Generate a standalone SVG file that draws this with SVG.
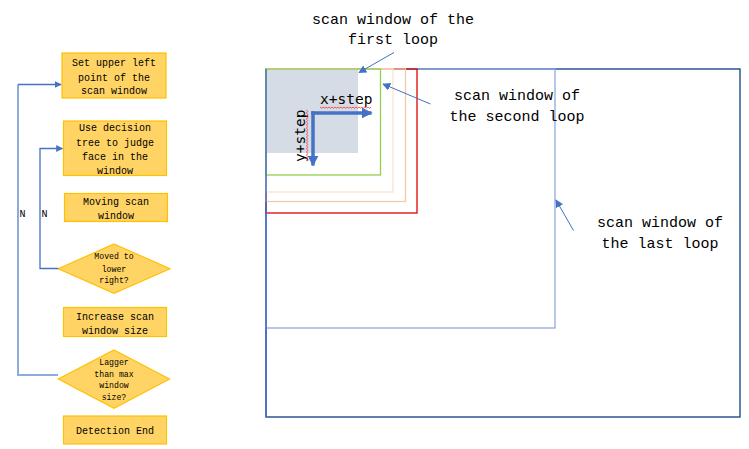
<svg xmlns="http://www.w3.org/2000/svg" width="749" height="449" viewBox="0 0 749 449">
<style>
.box{fill:#ffd465;stroke:#ffc000;stroke-width:1.2}
.ft{font-family:"Liberation Mono","DejaVu Sans Mono",monospace;font-size:10px;fill:#000;text-anchor:middle}
.fd{font-family:"Liberation Mono","DejaVu Sans Mono",monospace;font-size:8.2px;fill:#000;text-anchor:middle}
.ann{font-family:"Liberation Mono","DejaVu Sans Mono",monospace;font-size:15px;fill:#000;text-anchor:middle}
.step{font-family:"DejaVu Sans Mono","Liberation Mono",monospace;font-size:14.5px;fill:#000}
.win{fill:none}
.wave{fill:none;stroke:#ff3030;stroke-width:0.8}
</style>
<defs>
<marker id="ah" viewBox="0 0 10 10" refX="9" refY="5" markerWidth="7" markerHeight="7" markerUnits="userSpaceOnUse" orient="auto"><path d="M0,0 L10,5 L0,10 z" fill="#4472c4"/></marker>
<marker id="ahs" viewBox="0 0 10 10" refX="9" refY="5" markerWidth="8" markerHeight="8" markerUnits="userSpaceOnUse" orient="auto"><path d="M0,0 L10,5 L0,10 z" fill="#4472c4"/></marker>
<marker id="ahb" viewBox="0 0 10 10" refX="9" refY="5" markerWidth="11" markerHeight="11" markerUnits="userSpaceOnUse" orient="auto"><path d="M0,0 L10,5 L0,10 z" fill="#4472c4"/></marker>
</defs>

<!-- flowchart nodes -->
<g id="n1"><rect class="box" x="62" y="53" width="104" height="45"/>
<text class="ft" x="114" y="66">Set upper left</text><text class="ft" x="114" y="80.5">point of the</text><text class="ft" x="114" y="94">scan window</text></g>
<g id="n2"><rect class="box" x="63.5" y="121" width="103" height="54.5"/>
<text class="ft" x="115" y="131">Use decision</text><text class="ft" x="115" y="145.5">tree to judge</text><text class="ft" x="115" y="159.5">face in the</text><text class="ft" x="115" y="174">window</text></g>
<g id="n3"><rect class="box" x="64.5" y="193.5" width="103" height="28"/>
<text class="ft" x="116" y="205">Moving scan</text><text class="ft" x="116" y="219">window</text></g>
<g id="n4"><polygon class="box" points="114,244 170,268.7 114,293.3 58.3,268.7"/>
<text class="fd" x="114" y="259.3">Moved to</text><text class="fd" x="114" y="271.7">lower</text><text class="fd" x="114" y="283.3">right?</text></g>
<g id="n5"><rect class="box" x="63.5" y="307.5" width="103" height="29"/>
<text class="ft" x="115" y="319.5">Increase scan</text><text class="ft" x="115" y="333.5">window size</text></g>
<g id="n6"><polygon class="box" points="114,350 169.5,379 114,408.3 58.3,379"/>
<text class="fd" x="114" y="365">Lagger</text><text class="fd" x="114" y="376.7">than max</text><text class="fd" x="114" y="388.3">window</text><text class="fd" x="114" y="400">size?</text></g>
<g id="n7"><rect class="box" x="63.5" y="416" width="103" height="28"/>
<text class="ft" x="115" y="434">Detection End</text></g>

<!-- connectors -->
<g id="connectors">
<path d="M58,375 L18,375 L18,84.5" fill="none" stroke="#8faadc" stroke-width="2"/>
<path d="M18,84.5 L61,84.5" fill="none" stroke="#4472c4" stroke-width="1.3" marker-end="url(#ah)"/>
<path d="M58.3,268.5 L40,268.5 L40,148.5 L62.5,148.5" fill="none" stroke="#4472c4" stroke-width="1.3" marker-end="url(#ah)"/>
<text class="ft" x="22.5" y="217">N</text>
<text class="ft" x="44.5" y="217">N</text>
</g>

<!-- scan windows -->
<g id="windows">
<rect x="266" y="69" width="92" height="84" fill="#d6dce5"/>
<rect class="win" x="266" y="69" width="474" height="348" stroke="#2f5597" stroke-width="1.5"/>
<rect class="win" x="266" y="69" width="289" height="259" stroke="#8faadc" stroke-width="1.3"/>
<rect class="win" x="266" y="69" width="151" height="144" stroke="#e00000" stroke-width="1.3"/>
<rect class="win" x="266" y="69" width="139.5" height="132.5" stroke="#f4c9a8" stroke-width="1.3"/>
<rect class="win" x="266" y="69" width="127" height="123" stroke="#fbe3d2" stroke-width="1.3"/>
<rect class="win" x="266" y="69" width="114.5" height="106" stroke="#92d050" stroke-width="1.3"/>
<line x1="266" y1="69" x2="266" y2="417" stroke="#4472c4" stroke-width="1.5"/>
</g>

<!-- step arrows -->
<g id="steps">
<path d="M311.3,113 L371.5,113" stroke="#4472c4" stroke-width="3.5" fill="none" marker-end="url(#ahb)"/>
<path d="M313,111.3 L313,165.5" stroke="#4472c4" stroke-width="3.5" fill="none" marker-end="url(#ahb)"/>
<text class="step" x="320" y="104">x+step</text>
<text class="step" transform="translate(305,162) rotate(-90)">y+step</text>
<path class="wave" d="M320,107 l1.5,1.2 l1.5,-1.2 l1.5,1.2 l1.5,-1.2 l1.5,1.2 l1.5,-1.2 l1.5,1.2 l1.5,-1.2 l1.5,1.2 l1.5,-1.2 l1.5,1.2 l1.5,-1.2 l1.5,1.2 l1.5,-1.2 l1.5,1.2 l1.5,-1.2 l1.5,1.2 l1.5,-1.2 l1.5,1.2 l1.5,-1.2 l1.5,1.2 l1.5,-1.2 l1.5,1.2 l1.5,-1.2 l1.5,1.2 l1.5,-1.2 l1.5,1.2 l1.5,-1.2 l1.5,1.2 l1.5,-1.2 l1.5,1.2 l1.5,-1.2 l1.5,1.2 l1.5,-1.2"/>
<path class="wave" d="M306.5,110 l1.2,1.5 l-1.2,1.5 l1.2,1.5 l-1.2,1.5 l1.2,1.5 l-1.2,1.5 l1.2,1.5 l-1.2,1.5 l1.2,1.5 l-1.2,1.5 l1.2,1.5 l-1.2,1.5 l1.2,1.5 l-1.2,1.5 l1.2,1.5 l-1.2,1.5 l1.2,1.5 l-1.2,1.5 l1.2,1.5 l-1.2,1.5 l1.2,1.5 l-1.2,1.5 l1.2,1.5 l-1.2,1.5 l1.2,1.5 l-1.2,1.5 l1.2,1.5 l-1.2,1.5 l1.2,1.5 l-1.2,1.5 l1.2,1.5 l-1.2,1.5 l1.2,1.5 l-1.2,1.5"/>
</g>

<!-- annotations -->
<g id="annotations">
<text class="ann" x="393" y="24">scan window of the</text>
<text class="ann" x="393" y="44">first loop</text>
<line x1="394" y1="52.5" x2="359" y2="72.5" stroke="#4472c4" stroke-width="1" marker-end="url(#ahs)"/>
<text class="ann" x="517" y="100">scan window of</text>
<text class="ann" x="517" y="121">the second loop</text>
<line x1="430.5" y1="104" x2="383" y2="84" stroke="#4472c4" stroke-width="1" marker-end="url(#ahs)"/>
<text class="ann" x="660" y="227">scan window of</text>
<text class="ann" x="660" y="248">the last loop</text>
<line x1="573.5" y1="230.5" x2="556" y2="200" stroke="#4472c4" stroke-width="1" marker-end="url(#ahs)"/>
</g>
</svg>
